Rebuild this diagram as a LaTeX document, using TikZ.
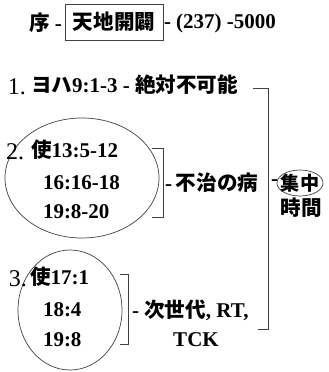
\documentclass[tikz,border=0pt]{standalone}
\usepackage{fontspec}
\setmainfont{Liberation Serif}
\newfontfamily\cjk{Noto Sans CJK JP}[Scale=0.98]
\usetikzlibrary{shapes.geometric}
\begin{document}
\begin{tikzpicture}[x=1pt,y=-1pt,
  every node/.style={inner sep=0pt,outer sep=0pt},
  txt/.style={font=\fontsize{21}{23}\selectfont\bfseries,anchor=west},
  ctr/.style={font=\fontsize{21}{23}\selectfont\bfseries,anchor=center},
  num/.style={font=\fontsize{24}{26}\selectfont,anchor=west},
  ln/.style={line width=0.7pt,black!75}]
\useasboundingbox (0,0) rectangle (329,372);
% top line
\node[txt] (jo) at (29,23) {{\cjk 序} -};
\node[draw,ln,ctr,minimum width=98pt,minimum height=36pt,text=black] (tenchi) at (114,22) {{\cjk 天地開闢}\hspace{14pt}};
\node[txt] (rest) at (164,23) {- (237) -5000};
% 1.
\node[num] (n1) at (8,87) {1.};
\node[txt] (l1) at (31,85) {{\cjk ヨハ}9:1-3 - {\cjk 絶対不可能}};
% big bracket
\coordinate (bt1) at (253,88);
\coordinate (bt2) at (268,88);
\coordinate (bb2) at (268,329);
\coordinate (bb1) at (258,329);
\draw[ln] (bt1) -- (bt2) -- (bb2) -- (bb1);
% 2.
\draw[ln] (82,178) ellipse [x radius=77pt, y radius=60pt];
\node[num] (n2) at (6,152) {2.};
\node[txt] (l2a) at (31,150) {{\cjk 使}13:5-12};
\node[txt] (l2b) at (43,183) {16:16-18};
\node[txt] (l2c) at (43,212) {19:8-20};
\coordinate (b2a) at (152,148);
\coordinate (b2b) at (163,148);
\coordinate (b2c) at (163,217);
\coordinate (b2d) at (152,217);
\draw[ln] (b2a) -- (b2b) -- (b2c) -- (b2d);
\node[txt] (d2) at (165,183) {-\hspace{4pt}{\cjk 不治の病}};
% right
\node[txt] (dash4) at (271,183) {-};
\coordinate (shuc) at (300,183);
\draw[ln] (shuc) ellipse [x radius=23pt, y radius=13pt];
\node[ctr,font=\fontsize{19.5}{21}\selectfont\bfseries] (shut) at (300,183) {{\cjk 集中}};
\node[ctr] (jikan) at (301,208) {{\cjk 時間}};
% 3.
\draw[ln] (70,310) ellipse [x radius=52pt, y radius=60pt];
\node[num] (n3) at (9,279) {3.};
\node[txt] (l3a) at (30,277) {{\cjk 使}17:1};
\node[txt] (l3b) at (43,310) {18:4};
\node[txt] (l3c) at (43,340) {19:8};
\coordinate (b3a) at (120,274);
\coordinate (b3b) at (128,274);
\coordinate (b3c) at (128,344);
\coordinate (b3d) at (120,344);
\draw[ln] (b3a) -- (b3b) -- (b3c) -- (b3d);
\node[txt] (d3) at (132,310) {- {\cjk 次世代}, RT,};
\node[ctr] (tck) at (196,340) {TCK};
\end{tikzpicture}
\end{document}
